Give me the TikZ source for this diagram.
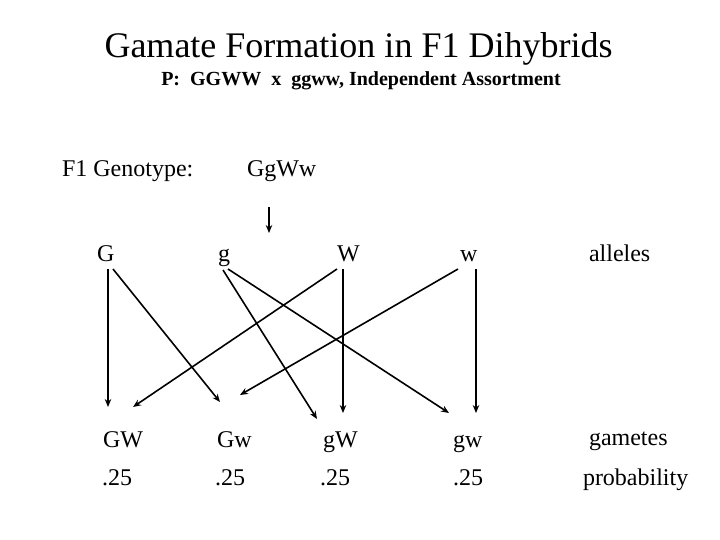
\documentclass[tikz,border=0pt]{standalone}
\usepackage{fontspec}
\setmainfont{Liberation Serif}
\usetikzlibrary{arrows.meta}
\begin{document}
\begin{tikzpicture}[x=1pt,y=-1pt,
  txt/.style={anchor=base west,inner sep=0pt,outer sep=0pt,font=\fontsize{24}{28}\selectfont},
  arr/.style={line width=1.6pt,-{Stealth[length=8pt,width=6.5pt]}}]
\useasboundingbox[fill=white] (0,0) rectangle (720,540);
% titles
\node[anchor=base,inner sep=0pt,font=\fontsize{36}{40}\selectfont] (title) at (358.5,58) {Gamate Formation in F1 Dihybrids};
\node[anchor=base,inner sep=0pt,font=\fontsize{20}{24}\selectfont\bfseries] (sub) at (361,86) {P:\ \ GGWW\ \ x\ \ ggww, Independent Assortment};
% genotype
\node[txt] (geno) at (62,177) {F1 Genotype:};
\node[txt] (ggww) at (247,177) {GgWw};
\coordinate (t1) at (269,207);
\coordinate (t2) at (269,233);
% alleles
\node[txt] (aG) at (97,261) {G};
\node[txt] (ag) at (218,261) {g};
\node[txt] (aW) at (337,261) {W};
\node[txt] (aw) at (460,261) {w};
\node[txt] (alleles) at (589,261) {alleles};
% gametes
\node[txt] (GW) at (103,447) {GW};
\node[txt] (Gw) at (217,447) {Gw};
\node[txt] (gW) at (323,447) {gW};
\node[txt] (gw) at (453,447) {gw};
\node[txt] (gametes) at (589,445) {gametes};
% probabilities
\node[txt] (p1) at (102,485) {.25};
\node[txt] (p2) at (215,485) {.25};
\node[txt] (p3) at (320,485) {.25};
\node[txt] (p4) at (453,485) {.25};
\node[txt] (prob) at (583,485) {probability};
% arrow end points
\coordinate (Gs1) at (108,269);  \coordinate (Ge1) at (108,407);
\coordinate (Gs2) at (113,269);  \coordinate (Ge2) at (220,402);
\coordinate (gs1) at (223,270);  \coordinate (ge1) at (317,419);
\coordinate (gs2) at (228,269);  \coordinate (ge2) at (449,413);
\coordinate (Ws1) at (337,269);  \coordinate (We1) at (133,407);
\coordinate (Ws2) at (343,269);  \coordinate (We2) at (343,413);
\coordinate (ws1) at (458,269);  \coordinate (we1) at (240,395);
\coordinate (ws2) at (476,269);  \coordinate (we2) at (476,413);
\draw[arr] (t1) -- (t2);
\draw[arr] (Gs1) -- (Ge1);
\draw[arr] (Gs2) -- (Ge2);
\draw[arr] (gs1) -- (ge1);
\draw[arr] (gs2) -- (ge2);
\draw[arr] (Ws1) -- (We1);
\draw[arr] (Ws2) -- (We2);
\draw[arr] (ws1) -- (we1);
\draw[arr] (ws2) -- (we2);
\end{tikzpicture}
\end{document}
